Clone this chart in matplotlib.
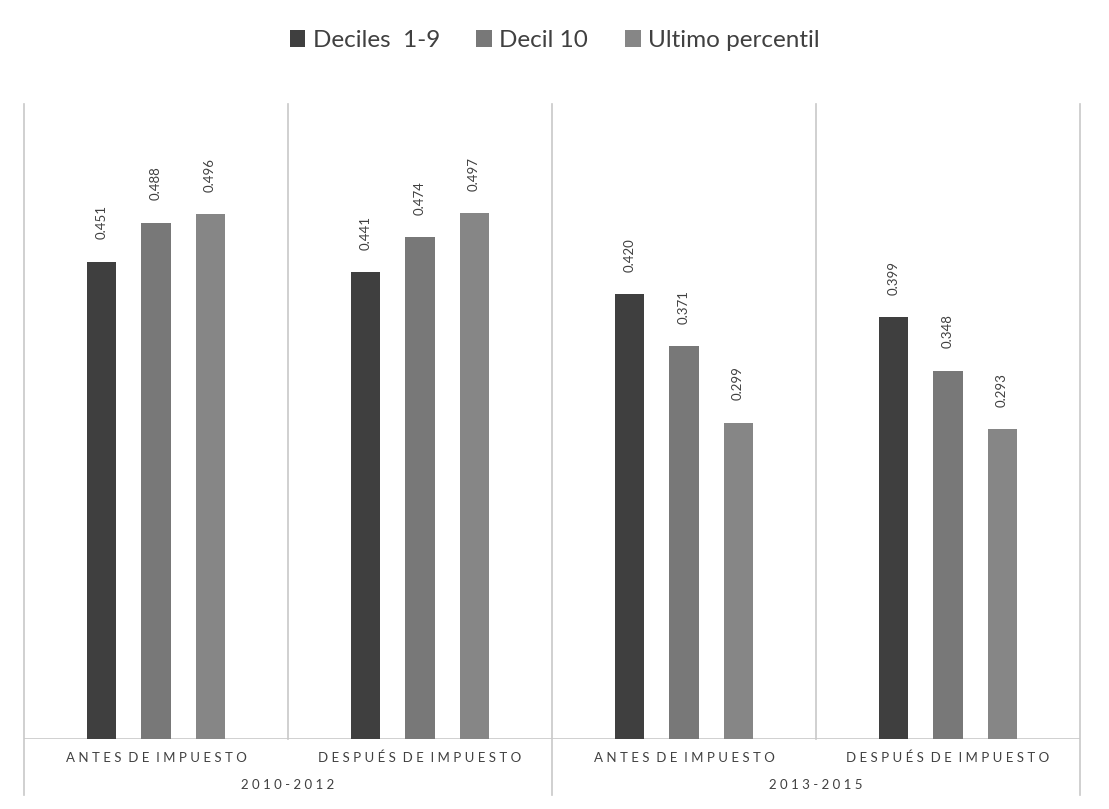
import matplotlib
matplotlib.use("Agg")
import matplotlib.pyplot as plt
import numpy as np

# datos del grafico
periodos = ["2010-2012", "2013-2015"]
categorias = ["ANTES DE IMPUESTO", "DESPUÉS DE IMPUESTO",
              "ANTES DE IMPUESTO", "DESPUÉS DE IMPUESTO"]
series = ["Deciles  1-9", "Decil 10", "Ultimo percentil"]
deciles_1_9 = [0.451, 0.441, 0.420, 0.399]
decil_10 = [0.488, 0.474, 0.371, 0.348]
ultimo_percentil = [0.496, 0.497, 0.299, 0.293]

colores = ["#3f3f3f", "#787878", "#868686"]
linea = "#c8c8c8"
texto = "#404040"

plt.rcParams['font.family'] = ['Lato', 'DejaVu Sans']

fig = plt.figure(figsize=(11.09, 8.09), dpi=100)
ax = fig.add_axes([24 / 1109, 70 / 809, 1056 / 1109, 635 / 809])

x = np.arange(len(categorias))
ancho = 0.11
paso = 0.205
valores = [deciles_1_9, decil_10, ultimo_percentil]
for i, (vals, nombre) in enumerate(zip(valores, series)):
    pos = x + (i - 1) * paso
    ax.bar(pos, vals, width=ancho, color=colores[i], label=nombre, zorder=3)
    for p, v in zip(pos, vals):
        ax.annotate(f"{v:.3f}", (p, v), xytext=(0, 16), textcoords="offset points",
                    rotation=90, ha="center", va="bottom", fontsize=9.5, color=texto)

ax.set_xlim(-0.5, len(categorias) - 0.5)
ax.set_ylim(0, 0.6)
ax.set_xticks([])
ax.set_yticks([])
for s in ax.spines.values():
    s.set_visible(False)
ax.axhline(0, color=linea, lw=1.2, zorder=2)

# lineas verticales de separacion
for k in range(len(categorias) + 1):
    largo = 0.0
    if k % 2 == 0:
        largo = -0.088
    ax.plot([k - 0.5, k - 0.5], [largo, 1.0], color=linea, lw=1.2,
            transform=ax.get_xaxis_transform(), clip_on=False, zorder=1)

def espaciar(t):
    return " ".join(t).replace("   ", "  ")

for k, cat in enumerate(categorias):
    ax.text(k, -0.03, espaciar(cat), transform=ax.get_xaxis_transform(),
            ha="center", va="center", fontsize=9.5, color=texto)
for j, per in enumerate(periodos):
    ax.text(2 * j + 0.5, -0.073, espaciar(per), transform=ax.get_xaxis_transform(),
            ha="center", va="center", fontsize=9.5, color=texto)

fig.legend(loc="upper center", bbox_to_anchor=(0.5, 0.99), ncol=3, frameon=False,
           fontsize=17.5, handlelength=0.65, handleheight=0.65, handletextpad=0.3,
           columnspacing=1.5, labelcolor=texto)

fig.savefig("out.png", dpi=100, facecolor="white")
